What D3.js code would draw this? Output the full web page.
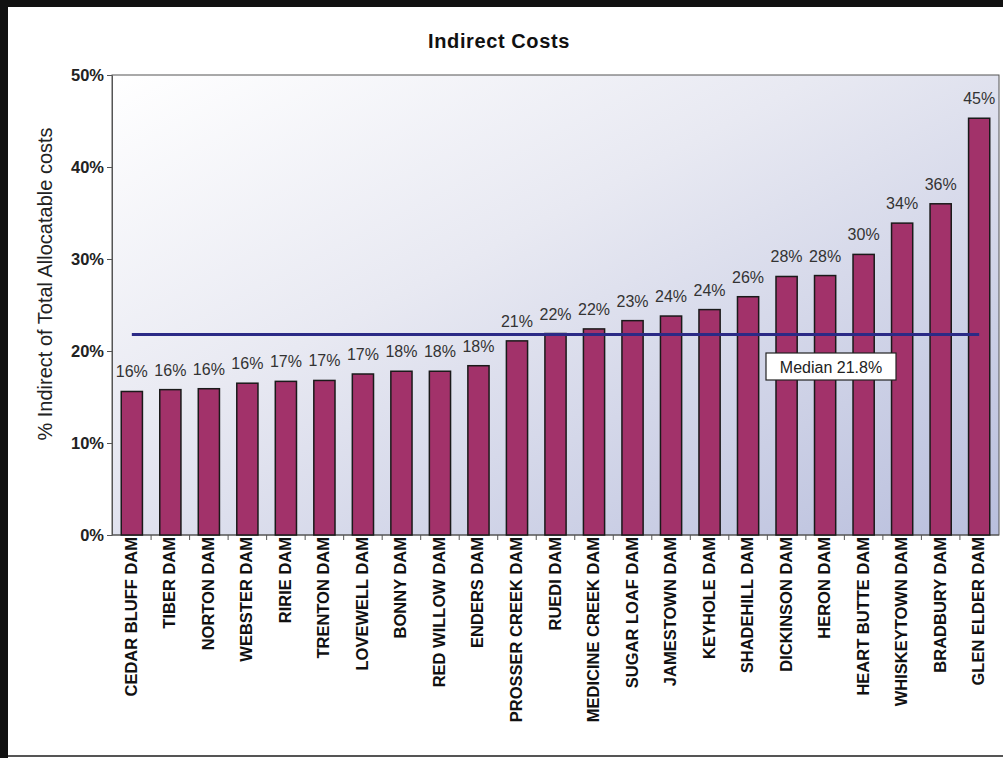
<!DOCTYPE html>
<html><head><meta charset="utf-8">
<script src="https://cdn.jsdelivr.net/npm/d3@7"></script>
<style>body{margin:0;background:#fff;}svg{display:block;font-family:Arial,"Liberation Sans",sans-serif;}</style>
</head><body>
<svg id="c" width="1003" height="758"></svg>
<script>
const categories = ["CEDAR BLUFF DAM","TIBER DAM","NORTON DAM","WEBSTER DAM","RIRIE DAM","TRENTON DAM","LOVEWELL DAM","BONNY DAM","RED WILLOW DAM","ENDERS DAM","PROSSER CREEK DAM","RUEDI DAM","MEDICINE CREEK DAM","SUGAR LOAF DAM","JAMESTOWN DAM","KEYHOLE DAM","SHADEHILL DAM","DICKINSON DAM","HERON DAM","HEART BUTTE DAM","WHISKEYTOWN DAM","BRADBURY DAM","GLEN ELDER DAM"];
const values = [15.6,15.8,15.9,16.5,16.7,16.8,17.5,17.8,17.8,18.4,21.1,21.9,22.4,23.3,23.8,24.5,25.9,28.1,28.2,30.5,33.9,36.0,45.3];
const valueLabels = ["16%","16%","16%","16%","17%","17%","17%","18%","18%","18%","21%","22%","22%","23%","24%","24%","26%","28%","28%","30%","34%","36%","45%"];
const yTicks = [0,10,20,30,40,50];
const median = 21.8;
const title = "Indirect Costs";
const yTitle = "% Indirect of Total Allocatable costs";
const medianLabel = "Median 21.8%";

const svg = d3.select("#c");
const L = 112, R = 999, T = 75, B = 535;

// outer frame
svg.append("rect").attr("x",0).attr("y",0).attr("width",1003).attr("height",7).attr("fill","#111");
svg.append("rect").attr("x",0).attr("y",0).attr("width",8).attr("height",758).attr("fill","#111");
svg.append("line").attr("x1",8).attr("x2",1003).attr("y1",756).attr("y2",756).attr("stroke","#555").attr("stroke-width",2);

const defs = svg.append("defs");
const g = defs.append("linearGradient").attr("id","bg").attr("x1","0%").attr("y1","0%").attr("x2","100%").attr("y2","100%");
g.append("stop").attr("offset","0%").attr("stop-color","#ffffff");
g.append("stop").attr("offset","40%").attr("stop-color","#e8e9f2");
g.append("stop").attr("offset","100%").attr("stop-color","#b9bfdd");

const x = d3.scaleBand().domain(categories).range([L,R]).paddingInner(0.45).paddingOuter(0.24);
const y = d3.scaleLinear().domain([0,50]).range([B,T]);

svg.append("rect").attr("x",L).attr("y",T).attr("width",R-L).attr("height",B-T)
  .attr("fill","url(#bg)").attr("stroke","#555").attr("stroke-width",1);

// title
svg.append("text").attr("x",499).attr("y",48).attr("text-anchor","middle")
  .attr("font-size",20).attr("font-weight","bold").attr("letter-spacing",0.6).attr("fill","#111").text(title);

// y axis
const yAxis = d3.axisLeft(y).tickValues(yTicks).tickFormat(d=>d+"%").tickSize(5).tickSizeOuter(0);
const ya = svg.append("g").attr("transform",`translate(${L},0)`).call(yAxis);
ya.attr("font-size",null).attr("font-family",null);
ya.select(".domain").attr("stroke","#555");
ya.selectAll(".tick line").attr("stroke","#555");
ya.selectAll(".tick text").style("font-size","16.5px").style("font-weight","bold").attr("fill","#222")
  .style("font-family","Arial, 'Liberation Sans', sans-serif").attr("x",-8);

svg.append("text").attr("transform","translate(52,284) rotate(-90)").attr("text-anchor","middle")
  .attr("font-size",20).attr("fill","#222").text(yTitle);

// x axis ticks between bands
const xa = svg.append("g").attr("transform",`translate(0,${B})`);
const step = x.step();
const boundaries = categories.slice(1).map(c => x(c) - (step - x.bandwidth())/2);
xa.selectAll("line.tk").data(boundaries).enter().append("line")
  .attr("x1",d=>d).attr("x2",d=>d).attr("y1",0).attr("y2",5).attr("stroke","#555");
xa.append("line").attr("x1",L).attr("x2",R).attr("y1",0).attr("y2",0).attr("stroke","#555");

// x labels
svg.append("g").selectAll("text").data(categories).enter().append("text")
  .attr("transform",d=>`translate(${x(d)+x.bandwidth()/2+5},${B+2}) rotate(-90)`)
  .attr("text-anchor","end").attr("font-size",16.5).attr("font-weight","bold").attr("fill","#111")
  .text(d=>d);

// bars
svg.append("g").selectAll("rect").data(values).enter().append("rect")
  .attr("x",(d,i)=>x(categories[i])).attr("y",d=>y(d))
  .attr("width",x.bandwidth()).attr("height",d=>B-y(d))
  .attr("fill","#a2326a").attr("stroke","#1a1a1a").attr("stroke-width",1.5);

// value labels
svg.append("g").selectAll("text").data(values).enter().append("text")
  .attr("x",(d,i)=>x(categories[i])+x.bandwidth()/2).attr("y",d=>y(d)-14)
  .attr("text-anchor","middle").attr("font-size",16).attr("fill","#333")
  .text((d,i)=>valueLabels[i]);

// median line
const x0 = x(categories[0]) + x.bandwidth()/2;
const x1 = x(categories[categories.length-1]) + x.bandwidth()/2;
svg.append("line").attr("x1",x0).attr("x2",x1).attr("y1",y(median)).attr("y2",y(median))
  .attr("stroke","#2b2a86").attr("stroke-width",3);

// median label box
svg.append("rect").attr("x",766).attr("y",353).attr("width",130).attr("height",27)
  .attr("fill","#fff").attr("stroke","#222").attr("stroke-width",1.2);
svg.append("text").attr("x",831).attr("y",372.5).attr("text-anchor","middle")
  .attr("font-size",16).attr("fill","#222").text(medianLabel);
</script>
</body></html>
